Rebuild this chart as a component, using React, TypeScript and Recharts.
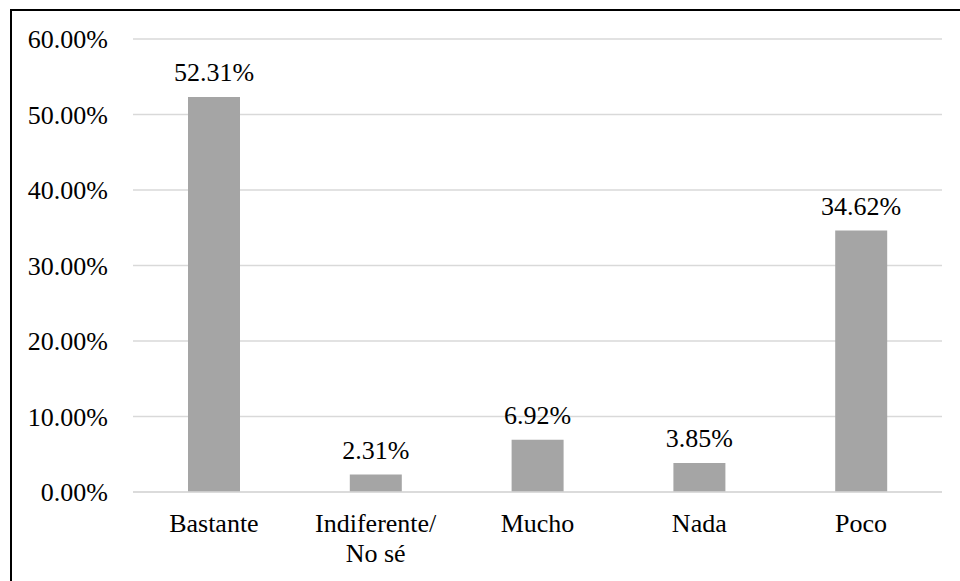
import { BarChart, Bar, XAxis, YAxis, CartesianGrid, LabelList } from "recharts";

const categories = ["Bastante", "Indiferente/\nNo sé", "Mucho", "Nada", "Poco"];
const shares = [52.31, 2.31, 6.92, 3.85, 34.62];
const yTicks = [0, 10, 20, 30, 40, 50, 60];

const data = categories.map((name, i) => ({ name, value: shares[i] }));

const FONT = "Liberation Serif, Times New Roman, serif";

function CategoryTick(props: any) {
  const { x, y, payload } = props;
  const lines = String(payload.value).split("\n");
  return (
    <text x={x} y={y} textAnchor="middle" fill="#000" fontSize={26} style={{ fontFamily: FONT }}>
      {lines.map((line, i) => (
        <tspan key={i} x={x} dy={i === 0 ? 40 : 30}>
          {line}
        </tspan>
      ))}
    </text>
  );
}

export default function App() {
  return (
    <div
      style={{
        position: "fixed",
        left: 0,
        top: 0,
        width: 960,
        height: 581,
        overflow: "hidden",
        background: "#fff",
        fontFamily: FONT,
      }}
    >
      <div
        style={{
          position: "absolute",
          left: 10,
          top: 9,
          width: 1000,
          height: 1000,
          border: "2px solid #000",
        }}
      />
      <div style={{ position: "absolute", left: 0, top: 0 }}>
        <BarChart
          width={960}
          height={581}
          data={data}
          margin={{ top: 39, right: 18, bottom: 0, left: 0 }}
          barSize={52}
          style={{ fontFamily: FONT }}
        >
          <CartesianGrid vertical={false} stroke="#D9D9D9" strokeWidth={1.5} />
          <XAxis
            dataKey="name"
            height={89}
            tickLine={false}
            tickSize={0}
            tickMargin={0}
            axisLine={{ stroke: "#D9D9D9", strokeWidth: 1.5 }}
            tick={<CategoryTick />}
            interval={0}
          />
          <YAxis
            width={133}
            domain={[0, 60]}
            ticks={yTicks}
            axisLine={false}
            tickLine={false}
            tickSize={0}
            tickMargin={25}
            tickFormatter={(v: number) => `${v.toFixed(2)}%`}
            tick={{ fill: "#000", fontSize: 26, style: { fontFamily: FONT } }}
          />
          <Bar dataKey="value" fill="#A5A5A5" isAnimationActive={false}>
            <LabelList
              dataKey="value"
              position="top"
              offset={16}
              formatter={(v: any) => `${Number(v).toFixed(2)}%`}
              fill="#000"
              fontSize={26}
              style={{ fontFamily: FONT }}
            />
          </Bar>
        </BarChart>
      </div>
    </div>
  );
}
